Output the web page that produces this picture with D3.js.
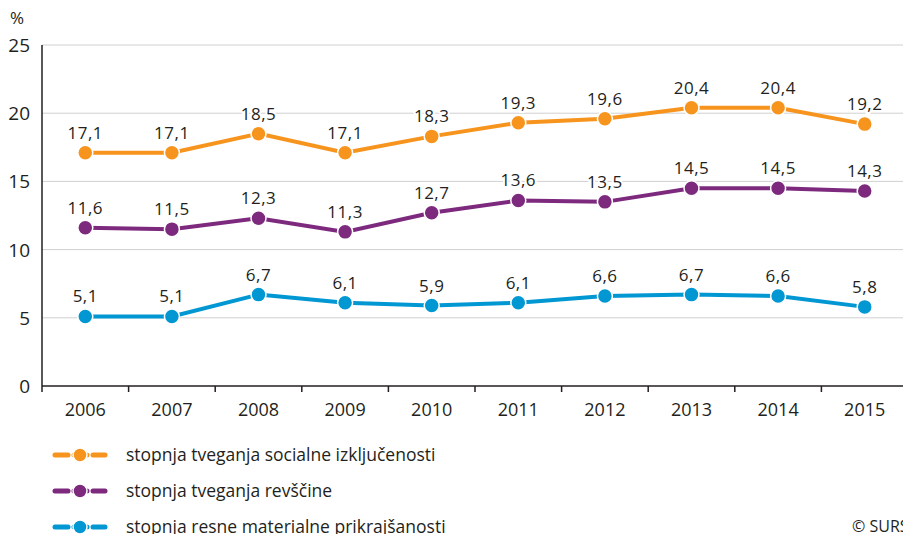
<!DOCTYPE html>
<html lang="en">
<head>
<meta charset="utf-8">
<title>SURS chart</title>
<script src="https://d3js.org/d3.v7.min.js"></script>
<style>
  body { margin: 0; background: #fff; }
  svg text { font-family: "Open Sans", "DejaVu Sans", sans-serif; fill: #231f20; }
</style>
</head>
<body>
<script>
// data
var years = ["2006","2007","2008","2009","2010","2011","2012","2013","2014","2015"];
var socialExclusion = [17.1, 17.1, 18.5, 17.1, 18.3, 19.3, 19.6, 20.4, 20.4, 19.2];
var poverty = [11.6, 11.5, 12.3, 11.3, 12.7, 13.6, 13.5, 14.5, 14.5, 14.3];
var deprivation = [5.1, 5.1, 6.7, 6.1, 5.9, 6.1, 6.6, 6.7, 6.6, 5.8];
var seriesNames = ["stopnja tveganja socialne izključenosti", "stopnja tveganja revščine", "stopnja resne materialne prikrajšanosti"];
var seriesColors = ["#f7941d", "#7d2a7e", "#0097d3"];
var yTicks = [0, 5, 10, 15, 20, 25];

var series = [socialExclusion, poverty, deprivation];

var w = 903, h = 534;
var plotLeft = 42, plotTop = 45, plotBottom = 386;

var svg = d3.select("body").append("svg")
    .attr("width", w)
    .attr("height", h);

// the x axis runs a bit past the right edge of the picture
var x = d3.scaleBand()
    .domain(years)
    .range([plotLeft, plotLeft + 10 * 86.6]);

var y = d3.scaleLinear()
    .domain([0, 25])
    .range([plotBottom, plotTop]);

// gridlines
svg.selectAll("line.grid")
    .data(yTicks.filter(function(d){ return d > 0; }))
    .enter().append("line")
    .attr("class", "grid")
    .attr("x1", plotLeft).attr("x2", w)
    .attr("y1", function(d){ return y(d); })
    .attr("y2", function(d){ return y(d); })
    .attr("stroke", "#d0d0d0")
    .attr("stroke-width", 1);

// y axis
svg.append("line")
    .attr("x1", plotLeft).attr("x2", plotLeft)
    .attr("y1", plotTop).attr("y2", plotBottom)
    .attr("stroke", "#231f20").attr("stroke-width", 1.5);

svg.selectAll("text.ytick")
    .data(yTicks)
    .enter().append("text")
    .attr("class", "ytick")
    .attr("x", 30)
    .attr("y", function(d){ return y(d) + 7; })
    .attr("text-anchor", "end")
    .attr("font-size", "19px")
    .text(function(d){ return d; });

svg.append("text")
    .attr("x", 10).attr("y", 24)
    .attr("font-size", "17px")
    .text("%");

// x axis
svg.append("line")
    .attr("x1", plotLeft).attr("x2", w)
    .attr("y1", plotBottom).attr("y2", plotBottom)
    .attr("stroke", "#231f20").attr("stroke-width", 1.5);

svg.selectAll("line.xtick")
    .data(years)
    .enter().append("line")
    .attr("class", "xtick")
    .attr("x1", function(d){ return x(d); })
    .attr("x2", function(d){ return x(d); })
    .attr("y1", plotBottom).attr("y2", plotBottom + 6)
    .attr("stroke", "#231f20").attr("stroke-width", 1.5);

svg.selectAll("text.xtick")
    .data(years)
    .enter().append("text")
    .attr("class", "xtick")
    .attr("x", function(d){ return x(d) + x.bandwidth() / 2; })
    .attr("y", 416)
    .attr("text-anchor", "middle")
    .attr("font-size", "18px")
    .text(function(d){ return d; });

var line = d3.line()
    .x(function(d, i){ return x(years[i]) + x.bandwidth() / 2; })
    .y(function(d){ return y(d); });

series.forEach(function(vals, s) {
    var g = svg.append("g");
    g.append("path")
        .datum(vals)
        .attr("d", line)
        .attr("fill", "none")
        .attr("stroke", seriesColors[s])
        .attr("stroke-width", 4);

    g.selectAll("circle")
        .data(vals)
        .enter().append("circle")
        .attr("cx", function(d, i){ return x(years[i]) + x.bandwidth() / 2; })
        .attr("cy", function(d){ return y(d); })
        .attr("r", 7.5)
        .attr("fill", seriesColors[s])
        .attr("stroke", "#fff")
        .attr("stroke-width", 1.5);

    g.selectAll("text")
        .data(vals)
        .enter().append("text")
        .attr("x", function(d, i){ return x(years[i]) + x.bandwidth() / 2; })
        .attr("y", function(d){ return y(d) - 14; })
        .attr("text-anchor", "middle")
        .attr("font-size", "17px")
        .attr("stroke", "#fff")
        .attr("stroke-width", 4)
        .attr("paint-order", "stroke")
        .style("letter-spacing", "0.5px")
        .text(function(d){ return d.toFixed(1).replace(".", ","); });
});

// legend
var legend = svg.selectAll("g.legend")
    .data(seriesNames)
    .enter().append("g")
    .attr("class", "legend")
    .attr("transform", function(d, i){ return "translate(55," + (455 + i * 36) + ")"; });

legend.append("line")
    .attr("x1", 0).attr("x2", 50)
    .attr("stroke", function(d, i){ return seriesColors[i]; })
    .attr("stroke-width", 5)
    .attr("stroke-linecap", "round")
    .attr("stroke-dasharray", "13,6");

legend.append("circle")
    .attr("cx", 25).attr("r", 7)
    .attr("fill", function(d, i){ return seriesColors[i]; })
    .attr("stroke", "#fff").attr("stroke-width", 1.5);

legend.append("text")
    .attr("x", 71).attr("y", 6)
    .attr("font-size", "17.5px")
    .text(function(d){ return d; });

svg.append("text")
    .attr("x", 852).attr("y", 532)
    .attr("font-size", "16px")
    .text("© SURS");
</script>
</body>
</html>
